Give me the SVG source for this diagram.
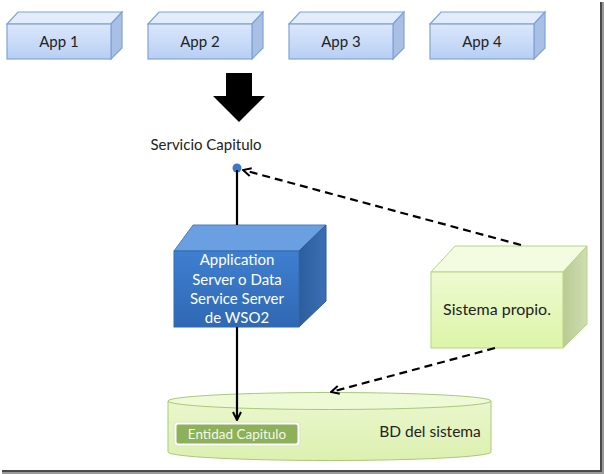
<svg xmlns="http://www.w3.org/2000/svg" width="604" height="474" viewBox="0 0 604 474">
<style>
text{font-family:"Lato","Liberation Sans",sans-serif}
.app-front{fill:url(#gApp);stroke:#7fa4d8;stroke-width:1.2}
.app-top{fill:#e2ecfb;stroke:#7fa4d8;stroke-width:1.2}
.app-side{fill:#a9bfe3;stroke:#7fa4d8;stroke-width:1.2}
.app-t{font-size:15px;fill:#222;text-anchor:middle}
.dash{stroke:#000;stroke-width:2.2;stroke-dasharray:8 5;fill:none}
.solid{stroke:#000;stroke-width:2.2;fill:none}
</style>
<defs>
<linearGradient id="gApp" x1="0" y1="0" x2="0" y2="1"><stop offset="0" stop-color="#dbe7fb"/><stop offset="1" stop-color="#b7cff4"/></linearGradient>
<linearGradient id="gSrv" x1="0" y1="0" x2="0" y2="1"><stop offset="0" stop-color="#3f7fd0"/><stop offset="1" stop-color="#2f68b4"/></linearGradient>
<linearGradient id="gSrvSide" x1="0" y1="0" x2="1" y2="0"><stop offset="0" stop-color="#2c5e9e"/><stop offset="1" stop-color="#3b6fb4"/></linearGradient>
<linearGradient id="gGreen" x1="0" y1="0" x2="0" y2="1"><stop offset="0" stop-color="#eefad2"/><stop offset="1" stop-color="#dcf5a8"/></linearGradient>
<linearGradient id="gGreenSide" x1="0" y1="0" x2="1" y2="0"><stop offset="0" stop-color="#b8cc94"/><stop offset="1" stop-color="#cfdcb0"/></linearGradient>
<linearGradient id="gCyl" x1="0" y1="0" x2="0" y2="1"><stop offset="0" stop-color="#eaf7cc"/><stop offset="1" stop-color="#dcf0b0"/></linearGradient>
<marker id="open" viewBox="0 0 10 10" refX="9" refY="5" markerWidth="10" markerHeight="10" markerUnits="userSpaceOnUse" orient="auto">
<path d="M1,1 L9,5 L1,9" fill="none" stroke="#000" stroke-width="2"/>
</marker>
</defs>
<rect width="604" height="474" fill="#fff"/>
<!-- frame shadow -->
<rect x="600" y="2" width="2" height="470" fill="#4a4a4a"/>
<rect x="602" y="2" width="2" height="472" fill="#9a9a9a"/>
<rect x="2" y="470" width="600" height="2" fill="#4a4a4a"/>
<rect x="2" y="472" width="602" height="2" fill="#9a9a9a"/>

<g id="app1">
<polygon class="app-top" points="7,24 18,12 122,12 111,24"/>
<polygon class="app-side" points="111,24 122,12 122,48 111,59"/>
<rect class="app-front" x="7" y="24" width="104" height="35"/>
<text class="app-t" x="59" y="47">App 1</text>
</g>
<g id="app2">
<polygon class="app-top" points="148,24 159,12 263,12 252,24"/>
<polygon class="app-side" points="252,24 263,12 263,48 252,59"/>
<rect class="app-front" x="148" y="24" width="104" height="35"/>
<text class="app-t" x="200" y="47">App 2</text>
</g>
<g id="app3">
<polygon class="app-top" points="289,24 300,12 404,12 393,24"/>
<polygon class="app-side" points="393,24 404,12 404,48 393,59"/>
<rect class="app-front" x="289" y="24" width="104" height="35"/>
<text class="app-t" x="341" y="47">App 3</text>
</g>
<g id="app4">
<polygon class="app-top" points="430,24 441,12 545,12 534,24"/>
<polygon class="app-side" points="534,24 545,12 545,48 534,59"/>
<rect class="app-front" x="430" y="24" width="104" height="35"/>
<text class="app-t" x="482" y="47">App 4</text>
</g>

<g id="big-arrow">
<polygon points="226,73 252,73 252,96 265,96 239,122 213,96 226,96" fill="#000"/>
</g>

<g id="servicio">
<text x="206" y="150" font-size="15" fill="#222" text-anchor="middle">Servicio Capitulo</text>
<circle cx="237" cy="168" r="4.5" fill="#3a78c8"/>
</g>

<g id="server">
<polygon points="174,251 193,225 326,225 299,251" fill="#6a9fe2" stroke="#4a7fc4" stroke-width="1"/>
<polygon points="299,251 326,225 326,301 299,327" fill="url(#gSrvSide)" stroke="#2a5a98" stroke-width="1"/>
<rect x="174" y="251" width="125" height="76" fill="url(#gSrv)" stroke="#3368ae" stroke-width="1"/>
<g font-size="15" fill="#fff" text-anchor="middle">
<text x="237" y="265">Application</text>
<text x="237" y="285">Server o Data</text>
<text x="237" y="304">Service Server</text>
<text x="237" y="323">de WSO2</text>
</g>
</g>

<g id="sistema">
<polygon points="431,272 455,246 587,246 563,272" fill="#f3fbe0" stroke="#b8d486" stroke-width="1"/>
<polygon points="563,272 587,246 587,324 563,348" fill="url(#gGreenSide)" stroke="#b8d486" stroke-width="1"/>
<rect x="431" y="272" width="132" height="76" fill="url(#gGreen)" stroke="#b8d486" stroke-width="1"/>
<text x="497" y="315" font-size="16" fill="#222" text-anchor="middle">Sistema propio.</text>
</g>

<g id="bd">
<path d="M168,401 L168,452 A161.5,8.5 0 0 0 491,452 L491,401 Z" fill="url(#gCyl)" stroke="#a9c97a" stroke-width="1"/>
<ellipse cx="329.5" cy="401" rx="161.5" ry="8.5" fill="#eef9d6" stroke="#a9c97a" stroke-width="1"/>
<text x="430" y="437" font-size="15.5" fill="#222" text-anchor="middle">BD del sistema</text>
<rect x="174" y="422" width="126" height="24" rx="3" fill="#fff" stroke="#d6e6bc" stroke-width="1"/>
<rect x="176.5" y="424.5" width="121" height="19" rx="2" fill="#8db158"/>
<text x="237" y="439" font-size="13.5" fill="#f2f8ea" text-anchor="middle">Entidad Capitulo</text>
</g>

<g id="connectors">
<line class="solid" x1="237" y1="170" x2="237" y2="225"/>
<line class="solid" x1="237" y1="327" x2="237" y2="420" marker-end="url(#open)"/>
<line class="dash" x1="521" y1="245" x2="243" y2="170" marker-end="url(#open)"/>
<line class="dash" x1="495" y1="348" x2="331" y2="392" marker-end="url(#open)"/>
</g>
</svg>
